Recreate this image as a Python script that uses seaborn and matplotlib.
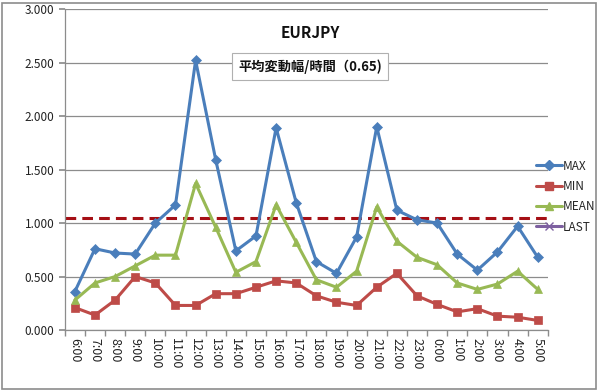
import numpy as np
import pandas as pd
import matplotlib
matplotlib.use("Agg")
import matplotlib.pyplot as plt
import matplotlib.patches as mpatches
from matplotlib.ticker import FormatStrFormatter, FixedLocator
import seaborn as sns

# ==============================
# DATA
# ==============================
hours = ["6:00", "7:00", "8:00", "9:00", "10:00", "11:00", "12:00", "13:00",
         "14:00", "15:00", "16:00", "17:00", "18:00", "19:00", "20:00", "21:00",
         "22:00", "23:00", "0:00", "1:00", "2:00", "3:00", "4:00", "5:00"]

max_vals = [0.36, 0.76, 0.72, 0.71, 1.00, 1.17, 2.52, 1.59, 0.74, 0.88, 1.89, 1.19,
            0.64, 0.53, 0.87, 1.90, 1.12, 1.03, 1.00, 0.71, 0.56, 0.73, 0.97, 0.68]
min_vals = [0.21, 0.14, 0.28, 0.50, 0.44, 0.23, 0.23, 0.34, 0.34, 0.40, 0.46, 0.44,
            0.32, 0.26, 0.23, 0.40, 0.53, 0.32, 0.24, 0.17, 0.20, 0.13, 0.12, 0.09]
mean_vals = [0.28, 0.44, 0.50, 0.60, 0.70, 0.70, 1.37, 0.96, 0.54, 0.64, 1.17, 0.82,
             0.47, 0.40, 0.55, 1.15, 0.83, 0.68, 0.61, 0.44, 0.38, 0.43, 0.55, 0.38]
last_vals = [np.nan] * len(hours)   # LAST is empty, only shown in the legend

ref_level = 1.05
title_text = "EURJPY"
box_text = "平均変動幅/時間（0.65)"

# ==============================
# STYLE
# ==============================
sns.set_theme(style="white")
plt.rcParams["font.family"] = ["Noto Sans CJK JP", "DejaVu Sans"]

series = [
    ("MAX", max_vals, "#4A7EBB", "D", 5),
    ("MIN", min_vals, "#BE4B48", "s", 6),
    ("MEAN", mean_vals, "#98B954", "^", 6),
    ("LAST", last_vals, "#7D60A0", "x", 6),
]

rows = []
for name, vals, _, _, _ in series:
    for h, v in zip(hours, vals):
        rows.append({"hour": h, "value": v, "series": name})
df = pd.DataFrame(rows)

fig = plt.figure(figsize=(6.0, 3.92), dpi=100)
ax = fig.add_axes([0.108, 0.158, 0.805, 0.819])

handles = []
for name, vals, color, marker, ms in series:
    sub = df[df["series"] == name]
    sns.lineplot(data=sub, x="hour", y="value", ax=ax, color=color, linewidth=2.2,
                 marker=marker, markersize=ms, markeredgecolor=color,
                 markeredgewidth=1.5 if marker == "x" else 0.5,
                 sort=False, legend=False)
    handles.append(plt.Line2D([0], [0], color=color, lw=2.2, marker=marker,
                              markersize=ms, markeredgecolor=color))

ax.axhline(ref_level, color="#A50F15", lw=2.2, ls=(0, (3.5, 2)), zorder=1)

# axes
ax.set_xlim(-0.5, len(hours) - 0.5)
ax.set_ylim(0, 3.0)
ax.set_yticks(np.arange(0, 3.01, 0.5))
ax.yaxis.set_major_formatter(FormatStrFormatter("%.3f"))
ax.yaxis.grid(True, color="#8C8C8C", lw=0.9)
ax.set_axisbelow(True)
ax.set_xlabel("")
ax.set_ylabel("")

ax.set_xticks(range(len(hours)))
ax.set_xticklabels(hours, rotation=270, fontsize=9, color="#222222")
ax.xaxis.set_minor_locator(FixedLocator(np.arange(-0.5, len(hours), 1)))
ax.tick_params(axis="x", which="major", length=0, pad=6)
ax.tick_params(axis="x", which="minor", length=4, color="#8C8C8C", bottom=True)
ax.tick_params(axis="y", length=4, color="#8C8C8C", left=True, labelsize=8.5,
               labelcolor="#222222")

for side in ["top", "right"]:
    ax.spines[side].set_visible(False)
for side in ["left", "bottom"]:
    ax.spines[side].set_color("#8C8C8C")
    ax.spines[side].set_linewidth(0.9)

# title and annotation box
fig.text(0.517, 0.915, title_text, ha="center", va="center", fontsize=11,
         fontweight="bold", color="#111111")
fig.text(0.517, 0.830, box_text, ha="center", va="center", fontsize=9.5,
         fontweight="bold", color="#111111",
         bbox=dict(boxstyle="square,pad=0.45", fc="white", ec="#B0B0B0", lw=0.8))

fig.legend(handles, [s[0] for s in series], loc="upper left",
           bbox_to_anchor=(0.875, 0.62), frameon=False, fontsize=8.5,
           handlelength=2.2, handletextpad=0.1, labelspacing=0.62)

# outer chart frame
fig.patches.append(mpatches.Rectangle((0.004, 0.008), 0.99, 0.985,
                                      transform=fig.transFigure, fill=False,
                                      ec="#8C8C8C", lw=1.2))

fig.savefig("out.png", dpi=100)
